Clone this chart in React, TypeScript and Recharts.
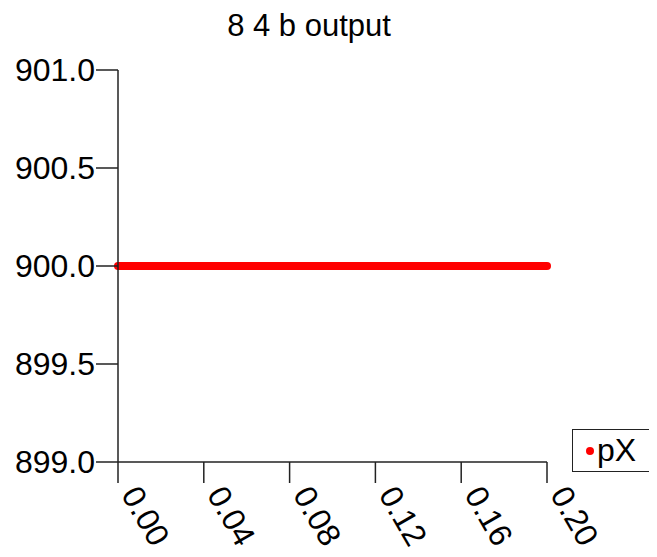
import React from "react";
import { LineChart, XAxis, YAxis, Line } from "recharts";

const times = [0, 0.01, 0.02, 0.03, 0.04, 0.05, 0.06, 0.07, 0.08, 0.09, 0.1, 0.11, 0.12, 0.13, 0.14, 0.15, 0.16, 0.17, 0.18, 0.19, 0.2];
const pX = [900, 900, 900, 900, 900, 900, 900, 900, 900, 900, 900, 900, 900, 900, 900, 900, 900, 900, 900, 900, 900];
const xTicks = [0, 0.04, 0.08, 0.12, 0.16, 0.2];
const yTicks = [899, 899.5, 900, 900.5, 901];

const data = times.map((t, i) => ({ t, pX: pX[i] }));

const font = "'Liberation Sans', Arial, Helvetica, sans-serif";

function XTick(props: any) {
  const { x, y, payload } = props;
  return (
    <g transform={`translate(${x + 4},${y + 4}) rotate(60)`}>
      <text x={4} y={4} textAnchor="start" fontSize={32} fontFamily={font} fill="#000">
        {Number(payload.value).toFixed(2)}
      </text>
    </g>
  );
}

export default function App() {
  return (
    <div style={{ position: "relative", width: 649, height: 549, overflow: "hidden" }}>
      <div
        style={{
          position: "absolute",
          left: 0,
          width: 602,
          top: 1,
          lineHeight: "34px",
          textAlign: "center",
          fontFamily: font,
          fontSize: 31,
        }}
      >
        8 4 b output
      </div>
      <div
        style={{
          position: "absolute",
          left: 564,
          top: 421,
          border: "1.5px solid #222",
          width: 100,
          height: 43,
          boxSizing: "border-box",
          fontFamily: font,
          fontSize: 32,
          display: "flex",
          alignItems: "center",
          paddingLeft: 13,
        }}
      >
        <span style={{ width: 8, height: 8, borderRadius: 4, background: "#ff0000", display: "inline-block", marginRight: 3 }} />
        <span>pX</span>
      </div>
      <LineChart width={649} height={549} data={data} margin={{ top: 62, right: 110, left: 0, bottom: 0 }}>
        <XAxis
          dataKey="t"
          type="number"
          domain={[0, 0.2]}
          ticks={xTicks}
          height={95}
          tickSize={21}
          stroke="#222"
          strokeWidth={1.5}
          tick={<XTick />}
          interval={0}
        />
        <YAxis
          type="number"
          domain={[899, 901]}
          ticks={yTicks}
          width={110}
          tickSize={22}
          tickMargin={1}
          stroke="#222"
          strokeWidth={1.5}
          tick={{ fill: "#000", fontSize: 32, fontFamily: font }}
          tickFormatter={(v: number) => v.toFixed(1)}
          interval={0}
        />
        <Line
          dataKey="pX"
          stroke="#ff0000"
          strokeWidth={8}
          strokeLinecap="round"
          dot={false}
          isAnimationActive={false}
        />
      </LineChart>
    </div>
  );
}
